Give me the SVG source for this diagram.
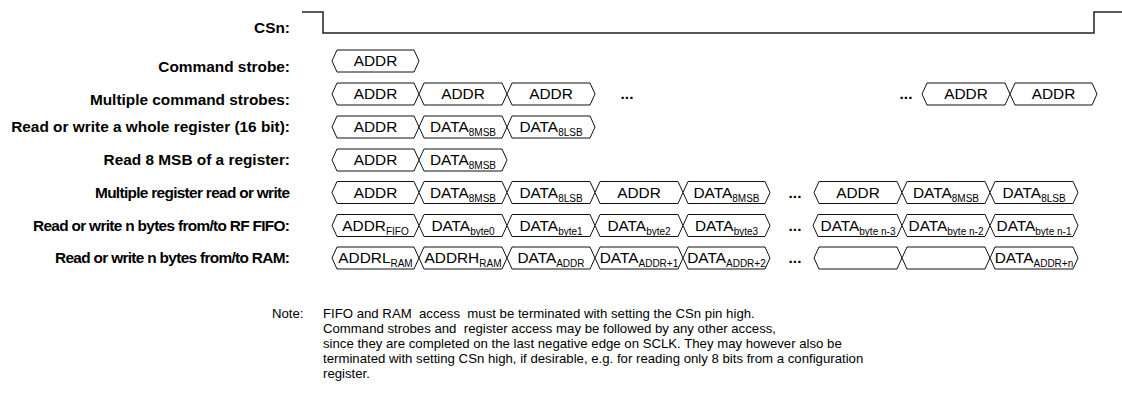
<svg xmlns="http://www.w3.org/2000/svg" width="1122" height="403" viewBox="0 0 1122 403">
<style>
text{font-family:"Liberation Sans",Arial,sans-serif;fill:#000}
.lbl{font-size:15.4px;font-weight:bold;text-anchor:end}
.bx{fill:#fff;stroke:#111;stroke-width:1}
.bt{font-size:15.4px;text-anchor:middle}
.sub{font-size:10px}
.dots{font-size:15.4px;font-weight:bold;text-anchor:middle}
.note{font-size:13.2px}
.sig{fill:none;stroke:#222;stroke-width:1.5}
</style>
<rect width="1122" height="403" fill="#fff"/>
<g id="labels">
<text class="lbl" x="290" y="33">CSn:</text>
<text class="lbl" x="290" y="72">Command strobe:</text>
<text class="lbl" x="290" y="105">Multiple command strobes:</text>
<text class="lbl" x="290" y="132">Read or write a whole register (16 bit):</text>
<text class="lbl" x="290" y="165">Read 8 MSB of a register:</text>
<text class="lbl" x="290" y="197.5" textLength="195" lengthAdjust="spacing">Multiple register read or write</text>
<text class="lbl" x="290" y="230.5" textLength="257" lengthAdjust="spacing">Read or write n bytes from/to RF FIFO:</text>
<text class="lbl" x="290" y="263" textLength="235" lengthAdjust="spacing">Read or write n bytes from/to RAM:</text>
</g>
<g id="connectors">
<polyline id="csn" class="sig" points="302,12 323,12 323,33 1094,33 1094,12 1122,12"/>
</g>
<g id="row1">
<g id="r1b1"><polygon class="bx" points="332,61 337,50 414,50 419,61 414,72 337,72"/><text class="bt" x="375.5" y="66">ADDR</text></g>
</g>
<g id="row2">
<g id="r2b1"><polygon class="bx" points="332,94 337,83 414,83 419,94 414,105 337,105"/><text class="bt" x="375.5" y="99">ADDR</text></g>
<g id="r2b2"><polygon class="bx" points="419,94 424,83 502,83 507,94 502,105 424,105"/><text class="bt" x="463" y="99">ADDR</text></g>
<g id="r2b3"><polygon class="bx" points="507,94 512,83 590,83 595,94 590,105 512,105"/><text class="bt" x="551" y="99">ADDR</text></g>
<text class="dots" x="627" y="99">...</text>
<text class="dots" x="906" y="99">...</text>
<g id="r2b4"><polygon class="bx" points="922,94 927,83 1005,83 1010,94 1005,105 927,105"/><text class="bt" x="966" y="99">ADDR</text></g>
<g id="r2b5"><polygon class="bx" points="1010,94 1015,83 1092,83 1097,94 1092,105 1015,105"/><text class="bt" x="1053.5" y="99">ADDR</text></g>
</g>
<g id="row3">
<g id="r3b1"><polygon class="bx" points="332,127 337,116 414,116 419,127 414,138 337,138"/><text class="bt" x="375.5" y="132">ADDR</text></g>
<g id="r3b2"><polygon class="bx" points="419,127 424,116 502,116 507,127 502,138 424,138"/><text class="bt" x="463" y="132">DATA<tspan class="sub" dy="4">8MSB</tspan></text></g>
<g id="r3b3"><polygon class="bx" points="507,127 512,116 590,116 595,127 590,138 512,138"/><text class="bt" x="551" y="132">DATA<tspan class="sub" dy="4">8LSB</tspan></text></g>
</g>
<g id="row4">
<g id="r4b1"><polygon class="bx" points="332,160 337,149 414,149 419,160 414,171 337,171"/><text class="bt" x="375.5" y="165">ADDR</text></g>
<g id="r4b2"><polygon class="bx" points="419,160 424,149 502,149 507,160 502,171 424,171"/><text class="bt" x="463" y="165">DATA<tspan class="sub" dy="4">8MSB</tspan></text></g>
</g>
<g id="row5">
<g id="r5b1"><polygon class="bx" points="332,192.5 337,181.5 414,181.5 419,192.5 414,203.5 337,203.5"/><text class="bt" x="375.5" y="197.5">ADDR</text></g>
<g id="r5b2"><polygon class="bx" points="419,192.5 424,181.5 502,181.5 507,192.5 502,203.5 424,203.5"/><text class="bt" x="463" y="197.5">DATA<tspan class="sub" dy="4">8MSB</tspan></text></g>
<g id="r5b3"><polygon class="bx" points="507,192.5 512,181.5 590,181.5 595,192.5 590,203.5 512,203.5"/><text class="bt" x="551" y="197.5">DATA<tspan class="sub" dy="4">8LSB</tspan></text></g>
<g id="r5b4"><polygon class="bx" points="595,192.5 600,181.5 678,181.5 683,192.5 678,203.5 600,203.5"/><text class="bt" x="639" y="197.5">ADDR</text></g>
<g id="r5b5"><polygon class="bx" points="683,192.5 688,181.5 765,181.5 770,192.5 765,203.5 688,203.5"/><text class="bt" x="726.5" y="197.5">DATA<tspan class="sub" dy="4">8MSB</tspan></text></g>
<text class="dots" x="795" y="197.5">...</text>
<g id="r5b6"><polygon class="bx" points="814,192.5 819,181.5 897,181.5 902,192.5 897,203.5 819,203.5"/><text class="bt" x="858" y="197.5">ADDR</text></g>
<g id="r5b7"><polygon class="bx" points="902,192.5 907,181.5 985,181.5 990,192.5 985,203.5 907,203.5"/><text class="bt" x="946" y="197.5">DATA<tspan class="sub" dy="4">8MSB</tspan></text></g>
<g id="r5b8"><polygon class="bx" points="990,192.5 995,181.5 1073,181.5 1078,192.5 1073,203.5 995,203.5"/><text class="bt" x="1034" y="197.5">DATA<tspan class="sub" dy="4">8LSB</tspan></text></g>
</g>
<g id="row6">
<g id="r6b1"><polygon class="bx" points="332,225.5 337,214.5 414,214.5 419,225.5 414,236.5 337,236.5"/><text class="bt" x="375.5" y="230.5">ADDR<tspan class="sub" dy="4">FIFO</tspan></text></g>
<g id="r6b2"><polygon class="bx" points="419,225.5 424,214.5 502,214.5 507,225.5 502,236.5 424,236.5"/><text class="bt" x="463" y="230.5">DATA<tspan class="sub" dy="4">byte0</tspan></text></g>
<g id="r6b3"><polygon class="bx" points="507,225.5 512,214.5 590,214.5 595,225.5 590,236.5 512,236.5"/><text class="bt" x="551" y="230.5">DATA<tspan class="sub" dy="4">byte1</tspan></text></g>
<g id="r6b4"><polygon class="bx" points="595,225.5 600,214.5 678,214.5 683,225.5 678,236.5 600,236.5"/><text class="bt" x="639" y="230.5">DATA<tspan class="sub" dy="4">byte2</tspan></text></g>
<g id="r6b5"><polygon class="bx" points="683,225.5 688,214.5 765,214.5 770,225.5 765,236.5 688,236.5"/><text class="bt" x="726.5" y="230.5">DATA<tspan class="sub" dy="4">byte3</tspan></text></g>
<text class="dots" x="795" y="230.5">...</text>
<g id="r6b6"><polygon class="bx" points="813,225.5 818,214.5 897,214.5 902,225.5 897,236.5 818,236.5"/><text class="bt" x="858" y="230.5">DATA<tspan class="sub" dy="4">byte n-3</tspan></text></g>
<g id="r6b7"><polygon class="bx" points="902,225.5 907,214.5 985,214.5 990,225.5 985,236.5 907,236.5"/><text class="bt" x="946" y="230.5">DATA<tspan class="sub" dy="4">byte n-2</tspan></text></g>
<g id="r6b8"><polygon class="bx" points="990,225.5 995,214.5 1073,214.5 1078,225.5 1073,236.5 995,236.5"/><text class="bt" x="1034" y="230.5">DATA<tspan class="sub" dy="4">byte n-1</tspan></text></g>
</g>
<g id="row7">
<g id="r7b1"><polygon class="bx" points="332,258 337,247 414,247 419,258 414,269 337,269"/><text class="bt" x="375.5" y="263">ADDRL<tspan class="sub" dy="4">RAM</tspan></text></g>
<g id="r7b2"><polygon class="bx" points="419,258 424,247 502,247 507,258 502,269 424,269"/><text class="bt" x="463" y="263">ADDRH<tspan class="sub" dy="4">RAM</tspan></text></g>
<g id="r7b3"><polygon class="bx" points="507,258 512,247 590,247 595,258 590,269 512,269"/><text class="bt" x="551" y="263">DATA<tspan class="sub" dy="4">ADDR</tspan></text></g>
<g id="r7b4"><polygon class="bx" points="595,258 600,247 678,247 683,258 678,269 600,269"/><text class="bt" x="639" y="263">DATA<tspan class="sub" dy="4">ADDR+1</tspan></text></g>
<g id="r7b5"><polygon class="bx" points="683,258 688,247 765,247 770,258 765,269 688,269"/><text class="bt" x="726.5" y="263">DATA<tspan class="sub" dy="4">ADDR+2</tspan></text></g>
<text class="dots" x="795" y="263">...</text>
<g id="r7b6"><polygon class="bx" points="814,258 819,247 897,247 902,258 897,269 819,269"/></g>
<g id="r7b7"><polygon class="bx" points="902,258 907,247 985,247 990,258 985,269 907,269"/></g>
<g id="r7b8"><polygon class="bx" points="990,258 995,247 1073,247 1078,258 1073,269 995,269"/><text class="bt" x="1034" y="263">DATA<tspan class="sub" dy="4">ADDR+n</tspan></text></g>
</g>
<g id="note">
<text class="note" x="272" y="318">Note:</text>
<text class="note" x="323" y="318" xml:space="preserve">FIFO and RAM  access  must be terminated with setting the CSn pin high.</text>
<text class="note" x="323" y="333" xml:space="preserve">Command strobes and  register access may be followed by any other access,</text>
<text class="note" x="323" y="348">since they are completed on the last negative edge on SCLK. They may however also be</text>
<text class="note" x="323" y="363">terminated with setting CSn high, if desirable, e.g. for reading only 8 bits from a configuration</text>
<text class="note" x="323" y="378">register.</text>
</g>
</svg>
